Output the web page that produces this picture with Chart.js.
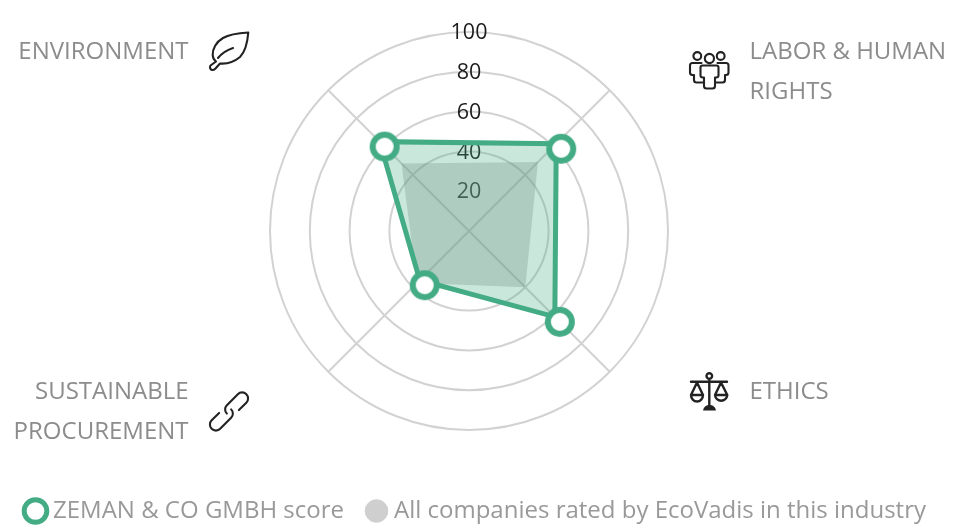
<!DOCTYPE html>
<html>
<head>
<meta charset="utf-8">
<style>html,body{margin:0;padding:0;background:#fff}canvas{display:block}</style>
<script src="https://cdn.jsdelivr.net/npm/chart.js@4"></script>
</head>
<body>
<canvas id="c" width="971" height="526"></canvas>
<script>
const categories = ['LABOR & HUMAN RIGHTS', 'ETHICS', 'SUSTAINABLE PROCUREMENT', 'ENVIRONMENT'];
const companyName = 'ZEMAN & CO GMBH score';
const industryName = 'All companies rated by EcoVadis in this industry';
const companyScores = [62, 61, 35, 63.5];
const industryScores = [49, 40, 37, 48];
const tickStep = 20;
const tickMax = 100;

const GREEN = '#44ac84';
const GRID = '#d2d2d2';
const FONT = '"Open Sans"';

function offsetMarker() {
  const m = document.createElement('canvas');
  m.width = 50; m.height = 50;
  const x = m.getContext('2d');
  x.beginPath();
  x.arc(30, 30, 12, 0, Math.PI * 2);
  x.fillStyle = '#fff';
  x.fill();
  x.lineWidth = 6;
  x.strokeStyle = GREEN;
  x.stroke();
  return m;
}

const labelLayout = [
  {lines: ['LABOR & HUMAN', 'RIGHTS'], x: 749.5, y: 52, align: 'left'},
  {lines: ['ETHICS'], x: 749.5, y: 392, align: 'left'},
  {lines: ['SUSTAINABLE', 'PROCUREMENT'], x: 188.5, y: 392, align: 'right'},
  {lines: ['ENVIRONMENT'], x: 188.5, y: 52, align: 'right'}
];

const icons = [
  // leaf
  {d: 'M248.3 32.5C240 33 230 34 223 38C216 42 212.5 49 212.7 55C212.8 58 214 60 216 61.5L210.5 65.5C209.5 67 210 69.5 212 70C213.5 70.3 214.5 69.5 215.5 68.5L220 63.5C226 64 234 62 240 57C246 51 247.5 42 248.3 32.5ZM218 58C222 53 227 50 233 48'},
  // people
  {d: 'M693.4 56a3.9 3.9 0 1 0 7.8 0a3.9 3.9 0 1 0 -7.8 0ZM716.8 56a3.9 3.9 0 1 0 7.8 0a3.9 3.9 0 1 0 -7.8 0ZM704.8 58.5a4.6 4.6 0 1 0 9.2 0a4.6 4.6 0 1 0 -9.2 0Z' +
     'M702.5 65.5H716.5Q718.5 65.5 718.5 67.5V75.5Q718.5 77.5 716 77.5H715V86Q715 88.5 712.5 88.5H706.5Q704 88.5 704 86V77.5H703Q700.5 77.5 700.5 75.5V67.5Q700.5 65.5 702.5 65.5Z' +
     'M701.5 63H692.5Q690 63 690 65.5V72.5Q690 75 692.5 75H694V80Q694 82.5 696.5 82.5H703' +
     'M717.5 63H726Q728.5 63 728.5 65.5V72.5Q728.5 75 726 75H725V80Q725 82.5 722.5 82.5H716'},
  // scales
  {d: 'M691 381.7H727M706.5 376a2.8 2.8 0 1 0 5.6 0a2.8 2.8 0 1 0 -5.6 0ZM709.3 379V405' +
     'M697 382.5L691 395H703L697 382.5ZM691 395A6 6.5 0 0 0 703 395M721 382.5L715 395H727.3L721 382.5ZM715 395A6.2 6.5 0 0 0 727.3 395', lw: 2.4},
  {d: 'M703 410.5H716Q715 405 709.5 405Q704 405 703 410.5Z', fill: true},
  // chain, drawn along its own axis
  {d: 'M-3 0A6 6 0 0 1 3 -6H18.5A6 6 0 0 1 18.5 6H8M3 0A6 6 0 0 1 -3 6H-18.5A6 6 0 0 1 -18.5 -6H-8', at: [229, 411.5], rot: -Math.PI / 4}
];

const decoPlugin = {
  id: 'deco',
  beforeDatasetsDraw(chart) {
    const c = chart.ctx, s = chart.scales.r;
    c.save();
    c.font = '21.5px ' + FONT;
    c.fillStyle = '#1c1c1c';
    c.textAlign = 'center';
    c.textBaseline = 'middle';
    s.ticks.forEach(t => {
      if (t.value > 0) c.fillText(String(t.value), s.xCenter, s.yCenter - s.getDistanceFromCenterForValue(t.value) + 1);
    });
    c.restore();
  },
  afterDraw(chart) {
    const c = chart.ctx;
    c.save();
    c.font = '24px ' + FONT;
    c.fillStyle = '#8c8c8c';
    c.textBaseline = 'middle';
    labelLayout.forEach(l => {
      c.textAlign = l.align;
      l.lines.forEach((t, i) => c.fillText(t, l.x, l.y + i * 40));
    });
    c.strokeStyle = '#222';
    c.fillStyle = '#222';
    c.lineJoin = 'round';
    c.lineCap = 'round';
    icons.forEach(ic => {
      c.save();
      c.lineWidth = ic.lw || 2.1;
      if (ic.at) { c.translate(ic.at[0], ic.at[1]); c.rotate(ic.rot); }
      const p = new Path2D(ic.d);
      if (ic.fill) c.fill(p); else c.stroke(p);
      c.restore();
    });
    c.restore();
  }
};

new Chart(document.getElementById('c'), {
  type: 'radar',
  data: {
    labels: categories,
    datasets: [
      {
        label: companyName,
        data: companyScores,
        borderColor: GREEN,
        borderWidth: 5,
        backgroundColor: 'rgba(68,172,132,0.29)',
        fill: true,
        tension: 0,
        pointStyle: offsetMarker(),
        pointRadius: 15
      },
      {
        label: industryName,
        data: industryScores,
        borderWidth: 0,
        borderColor: 'rgba(0,0,0,0)',
        backgroundColor: 'rgba(140,140,140,0.33)',
        fill: true,
        tension: 0,
        pointRadius: 0
      }
    ]
  },
  plugins: [decoPlugin],
  options: {
    responsive: false,
    animation: false,
    devicePixelRatio: 1,
    layout: {padding: {left: 3, right: 0, top: 0, bottom: -7}},
    scales: {
      r: {
        min: 0,
        max: tickMax,
        startAngle: 45,
        afterFit(s) { s.xCenter = 469; s.yCenter = 231; s.drawingArea = 199; },
        grid: {
          circular: true,
          lineWidth: 2,
          color: ctx => (ctx.tick && ctx.tick.value === tickStep ? 'rgba(0,0,0,0)' : GRID)
        },
        angleLines: {color: GRID, lineWidth: 2},
        pointLabels: {display: false},
        ticks: {stepSize: tickStep, display: false}
      }
    },
    plugins: {
      tooltip: {enabled: false},
      legend: {
        position: 'bottom',
        align: 'start',
        labels: {
          usePointStyle: true,
          boxWidth: 11,
          boxHeight: 16,
          padding: 27,
          color: '#999999',
          font: {family: FONT, size: 24},
          generateLabels() {
            return [
              {text: companyName, fillStyle: '#fff', strokeStyle: GREEN, lineWidth: 5, pointStyle: 'circle', datasetIndex: 0, fontColor: '#999999'},
              {text: industryName, fillStyle: '#cfcfcf', strokeStyle: '#cfcfcf', lineWidth: 1, pointStyle: 'circle', datasetIndex: 1, fontColor: '#999999'}
            ];
          }
        }
      }
    }
  }
});
</script>
</body>
</html>
